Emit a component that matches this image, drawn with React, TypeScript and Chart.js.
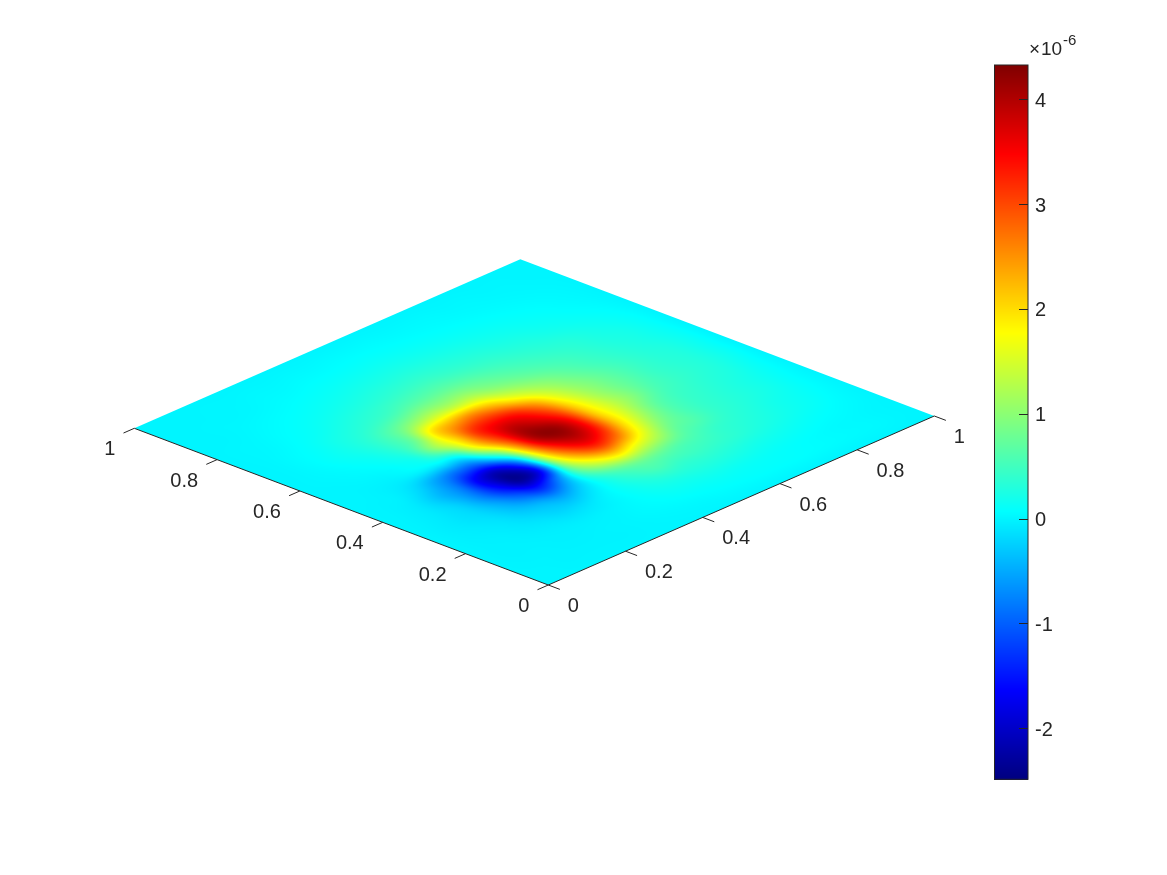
import React, { useEffect, useRef } from "react";
import { Chart, registerables } from "chart.js";

Chart.register(...registerables);

// colour value (×10^-6) on a uniform 0.05 grid; rows run along y (0 → 1), columns along x (0 → 1)
const row00 = [0,0,0,0,0,0,0,0,0,0,0,0,0,0,0,0,0,0,0,0,0];
const row01 = [0,0,-.01,-.01,-.01,-.01,0,.01,.02,.03,.05,.06,.07,.07,.07,.06,.05,.04,.03,.01,0];
const row02 = [0,-.01,-.01,-.02,-.02,-.01,0,.03,.06,.1,.12,.14,.13,.12,.1,.08,.06,.04,.03,.01,0];
const row03 = [0,-.02,-.02,-.03,-.04,-.05,-.03,.02,.1,.2,.25,.28,.28,.25,.2,.17,.13,.09,.06,.03,0];
const row04 = [0,-.02,-.03,-.07,-.12,-.2,-.18,-.03,.15,.35,.52,.45,.45,.4,.35,.28,.22,.16,.11,.05,0];
const row05 = [0,-.03,-.06,-.12,-.28,-.42,-.6,-.25,.25,.65,.85,.8,.65,.55,.42,.35,.28,.2,.14,.07,0];
const row06 = [0,-.04,-.1,-.2,-.5,-1,-1.45,-.7,.7,1.55,2,1.65,1.25,.75,.6,.42,.33,.26,.18,.08,0];
const row07 = [0,-.03,-.1,-.28,-.8,-1.6,-2.35,-1.65,1.1,2.5,3.2,2.75,1.8,1.05,.65,.45,.36,.28,.2,.1,0];
const row08 = [0,-.02,-.1,-.38,-.8,-1.75,-2.1,-.95,1.7,3.3,3.9,3.4,2.1,1.3,.75,.5,.4,.32,.25,.12,0];
const row09 = [0,-.01,-.04,-.22,-.6,-.95,-.85,.45,2.4,3.95,4.2,3.5,2.1,1.4,.95,.6,.45,.36,.28,.15,0];
const row10 = [0,0,-.02,-.04,-.02,0,.2,1.7,3,3.95,3.8,3.15,2,1.3,.9,.65,.45,.35,.28,.14,0];
const row11 = [0,0,.01,.03,.1,.3,1.1,2,3.15,3.45,3.3,2.6,1.7,1.15,.85,.62,.45,.33,.26,.14,0];
const row12 = [0,.01,.03,.08,.17,.4,.85,2,2.4,2.6,2.3,1.7,1.25,.95,.7,.52,.4,.3,.22,.12,0];
const row13 = [0,.01,.05,.12,.22,.4,.7,1.1,1.35,1.35,1.35,1.05,.85,.68,.55,.45,.35,.26,.2,.1,0];
const row14 = [0,.01,.05,.1,.2,.3,.42,.55,.72,.78,.8,.72,.6,.5,.42,.35,.3,.22,.15,.08,0];
const row15 = [0,.01,.03,.07,.12,.2,.28,.35,.42,.48,.5,.45,.4,.36,.3,.26,.2,.15,.1,.05,0];
const row16 = [0,.01,.02,.05,.08,.12,.17,.22,.27,.3,.32,.3,.27,.24,.2,.17,.13,.1,.06,.03,0];
const row17 = [0,0,.01,.03,.05,.07,.1,.13,.16,.18,.19,.18,.16,.14,.12,.1,.08,.06,.04,.02,0];
const row18 = [0,0,.01,.01,.02,.04,.05,.07,.08,.09,.1,.09,.08,.07,.06,.05,.04,.03,.02,.01,0];
const row19 = [0,0,0,.01,.01,.02,.02,.03,.03,.04,.04,.04,.03,.03,.03,.02,.02,.01,.01,0,0];
const row20 = [0,0,0,0,0,0,0,0,0,0,0,0,0,0,0,0,0,0,0,0,0];
const grid = [row00,row01,row02,row03,row04,row05,row06,row07,row08,row09,row10,row11,row12,row13,row14,row15,row16,row17,row18,row19,row20];

const axisTicks = [0, 0.2, 0.4, 0.6, 0.8, 1];
const axisTickLabels = ["0", "0.2", "0.4", "0.6", "0.8", "1"];
const colorMin = -2.487;
const colorMax = 4.327;
const colorTicks = [-2, -1, 0, 1, 2, 3, 4];

const INK = "#262626";
const FONT = '"Liberation Sans", Arial, sans-serif';

// orthographic view: view-plane units for one data unit along x and y
const proj = { ux: 386, uy: 169, vx: -414, vy: 156.7 };
const toView = (u: number, v: number) => ({
  x: proj.ux * u + proj.vx * v,
  y: proj.uy * u + proj.vy * v,
});

const clip01 = (n: number) => Math.max(0, Math.min(1, n));
const jet = (t: number): [number, number, number] => [
  Math.round(255 * clip01(1.5 - Math.abs(4 * t - 3))),
  Math.round(255 * clip01(1.5 - Math.abs(4 * t - 2))),
  Math.round(255 * clip01(1.5 - Math.abs(4 * t - 1))),
];
const cr = (a: number, b: number, c: number, d: number, t: number) =>
  b + 0.5 * t * (c - a + t * (2 * a - 5 * b + 4 * c - d + t * (3 * (b - c) + d - a)));

const N = grid.length - 1;
function sample(u: number, v: number) {
  const fu = clip01(u) * N;
  const fv = clip01(v) * N;
  const iu = Math.min(N - 1, Math.floor(fu));
  const iv = Math.min(N - 1, Math.floor(fv));
  const tu = fu - iu;
  const tv = fv - iv;
  const at = (r: number, c: number) =>
    grid[Math.max(0, Math.min(N, r))][Math.max(0, Math.min(N, c))];
  const col = [0, 1, 2, 3].map((k) =>
    cr(at(iv - 1 + k, iu - 1), at(iv - 1 + k, iu), at(iv - 1 + k, iu + 1), at(iv - 1 + k, iu + 2), tu)
  );
  return cr(col[0], col[1], col[2], col[3], tv);
}

const surfacePlugin = {
  id: "surface",
  beforeDatasetsDraw(chart: any) {
    const { ctx, scales } = chart;
    const sx = scales.x;
    const sy = scales.y;
    const cb = scales.cb;
    const px = (u: number, v: number) => {
      const p = toView(u, v);
      return [sx.getPixelForValue(p.x), sy.getPixelForValue(p.y)];
    };
    const corners = [px(0, 0), px(1, 0), px(1, 1), px(0, 1)];
    const xs = corners.map((c) => c[0]);
    const ys = corners.map((c) => c[1]);
    const x0 = Math.floor(Math.min(...xs)) - 1;
    const x1 = Math.ceil(Math.max(...xs)) + 1;
    const y0 = Math.floor(Math.min(...ys)) - 1;
    const y1 = Math.ceil(Math.max(...ys)) + 1;
    const w = x1 - x0;
    const h = y1 - y0;
    const off = document.createElement("canvas");
    off.width = w;
    off.height = h;
    const octx = off.getContext("2d")!;
    const img = octx.createImageData(w, h);
    const det = proj.ux * proj.vy - proj.vx * proj.uy;
    for (let j = 0; j < h; j++) {
      const vy = sy.getValueForPixel(y0 + j + 0.5);
      for (let i = 0; i < w; i++) {
        const vx = sx.getValueForPixel(x0 + i + 0.5);
        const u = (vx * proj.vy - vy * proj.vx) / det;
        const v = (proj.ux * vy - proj.uy * vx) / det;
        if (u < -0.01 || u > 1.01 || v < -0.01 || v > 1.01) continue;
        const c = jet((sample(u, v) - colorMin) / (colorMax - colorMin));
        const o = (j * w + i) * 4;
        img.data[o] = c[0];
        img.data[o + 1] = c[1];
        img.data[o + 2] = c[2];
        img.data[o + 3] = 255;
      }
    }
    octx.putImageData(img, 0, 0);

    ctx.save();
    ctx.beginPath();
    corners.forEach((c, k) => (k ? ctx.lineTo(c[0], c[1]) : ctx.moveTo(c[0], c[1])));
    ctx.closePath();
    ctx.clip();
    ctx.drawImage(off, x0, y0);
    ctx.restore();

    // axis lines and ticks
    ctx.save();
    ctx.strokeStyle = INK;
    ctx.lineWidth = 1;
    const seg = (a: number[], b: number[]) => {
      ctx.beginPath();
      ctx.moveTo(a[0], a[1]);
      ctx.lineTo(b[0], b[1]);
      ctx.stroke();
    };
    seg(px(0, 0), px(1, 0));
    seg(px(0, 0), px(0, 1));
    ctx.fillStyle = INK;
    ctx.font = `20px ${FONT}`;
    ctx.textBaseline = "middle";
    axisTicks.forEach((t, k) => {
      const a = px(t, 0);
      seg(a, px(t, -0.028));
      ctx.textAlign = "left";
      ctx.fillText(axisTickLabels[k], a[0] + 19.5, a[1] + 21.5);
      const b = px(0, t);
      seg(b, px(-0.028, t));
      ctx.textAlign = "right";
      ctx.fillText(axisTickLabels[k], b[0] - 19, b[1] + 21.5);
    });
    ctx.restore();

    // colour bar
    ctx.save();
    const top = cb.getPixelForValue(colorMax);
    const bot = cb.getPixelForValue(colorMin);
    const barL = 994;
    const barR = chart.chartArea.right;
    for (let y = Math.floor(top); y < Math.ceil(bot); y++) {
      const val = cb.getValueForPixel(y + 0.5);
      const c = jet(clip01((val - colorMin) / (colorMax - colorMin)));
      ctx.fillStyle = `rgb(${c[0]},${c[1]},${c[2]})`;
      ctx.fillRect(barL, y, barR - barL, 1);
    }
    ctx.strokeStyle = INK;
    ctx.lineWidth = 1;
    ctx.strokeRect(barL + 0.5, top, barR - barL - 0.5, bot - top);
    colorTicks.forEach((t) => {
      const y = Math.round(cb.getPixelForValue(t)) + 0.5;
      ctx.beginPath();
      ctx.moveTo(barR - 9, y);
      ctx.lineTo(barR, y);
      ctx.stroke();
    });
    ctx.fillStyle = INK;
    ctx.textBaseline = "middle";
    ctx.textAlign = "left";
    ctx.font = `19px ${FONT}`;
    ctx.fillText("×", 1029, 50);
    ctx.fillText("10", 1041, 50);
    ctx.font = `15px ${FONT}`;
    ctx.fillText("-6", 1063, 41);
    ctx.restore();
  },
};

export default function App() {
  const ref = useRef<HTMLCanvasElement>(null);
  useEffect(() => {
    document.body.style.margin = "0";
    document.body.style.background = "#fff";
    const nodes: { x: number; y: number }[] = [];
    grid.forEach((row, r) => row.forEach((_, c) => nodes.push(toView(c / N, r / N))));
    const chart = new Chart(ref.current!, {
      type: "scatter",
      data: { datasets: [{ label: "surface", data: nodes, pointRadius: 0, showLine: false }] },
      plugins: [surfacePlugin],
      options: {
        animation: false,
        responsive: false,
        devicePixelRatio: 1,
        layout: { padding: { left: 0, right: 0, top: 65, bottom: 95.7 } },
        plugins: { legend: { display: false }, tooltip: { enabled: false }, title: { display: false } },
        scales: {
          x: { type: "linear", display: false, min: -548.3, max: 479.7 },
          y: { type: "linear", display: false, min: -194.3, max: 520 },
          cb: {
            type: "linear",
            position: "right",
            min: colorMin,
            max: colorMax,
            afterFit: (s: any) => { s.width = 139; },
            afterBuildTicks: (s: any) => { s.ticks = colorTicks.map((value) => ({ value })); },
            border: { display: false },
            grid: { display: false, drawTicks: false },
            ticks: {
              color: INK,
              padding: 7,
              labelOffset: 2,
              autoSkip: false,
              maxRotation: 0,
              font: { family: FONT, size: 20 },
              callback: (v: any) => String(v),
            },
          },
        },
      },
    } as any);
    return () => chart.destroy();
  }, []);
  return (
    <div style={{ position: "absolute", left: 0, top: 0 }}>
      <canvas ref={ref} width={1167} height={875} style={{ display: "block" }} />
    </div>
  );
}
